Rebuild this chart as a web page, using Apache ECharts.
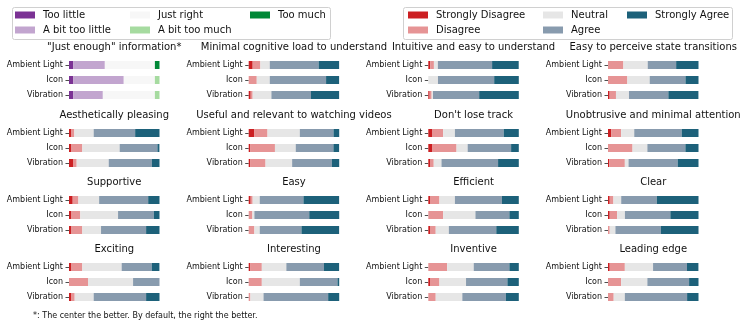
<!DOCTYPE html>
<html>
<head>
<meta charset="utf-8">
<script src="https://cdn.jsdelivr.net/npm/echarts@6/dist/echarts.min.js"></script>
<style>
html,body{margin:0;padding:0;background:#fff;}
#chart{width:747px;height:330px;}
</style>
</head>
<body>
<div id="chart"></div>
<script>
// ---- data (percent of respondents) ----
const modalities = ['Ambient Light', 'Icon', 'Vibration'];
const amountLevels = ['Too little', 'A bit too little', 'Just right', 'A bit too much', 'Too much'];
const likertLevels = ['Strongly Disagree', 'Disagree', 'Neutral', 'Agree', 'Strongly Agree'];
const amountColors = ['#7b3294', '#c2a5cf', '#f7f7f7', '#a6dba0', '#008837'];
const likertColors = ['#cc1f22', '#e69495', '#e6e6e6', '#889bae', '#1d617a'];

const panelTitles = [
  '"Just enough" information*', 'Minimal cognitive load to understand', 'Intuitive and easy to understand', 'Easy to perceive state transitions',
  'Aesthetically pleasing', 'Useful and relevant to watching videos', "Don't lose track", 'Unobtrusive and minimal attention',
  'Supportive', 'Easy', 'Efficient', 'Clear',
  'Exciting', 'Interesting', 'Inventive', 'Leading edge'
];

// rows: Ambient Light, Icon, Vibration; columns: levels (left to right)
const justEnough      = [[4.8, 34.8, 55.3, 0, 5.1], [4.8, 55.7, 34.4, 5.1, 0], [4.8, 32.6, 57.5, 5.1, 0]];
const minimalLoad     = [[4.4, 8.5, 10.4, 54.0, 22.6], [0, 8.9, 14.4, 62.2, 14.4], [2.2, 2.2, 20.7, 43.7, 31.1]];
const intuitive       = [[2.2, 4.0, 4.4, 59.9, 29.4], [0, 0, 10.7, 62.1, 27.2], [1.5, 2.2, 1.5, 51.0, 43.8]];
const stateTransition = [[0, 17.0, 26.9, 31.4, 24.7], [0, 21.4, 24.7, 39.5, 14.4], [1.8, 7.0, 14.4, 43.5, 33.2]];
const aesthetic       = [[2.2, 3.7, 21.4, 45.8, 26.9], [2.2, 12.5, 41.3, 41.7, 2.2], [4.4, 4.1, 35.4, 47.6, 8.5]];
const usefulVideos    = [[6.3, 14.5, 35.7, 37.2, 6.3], [1.9, 27.1, 23.0, 41.6, 6.3], [1.9, 16.7, 29.4, 43.9, 8.2]];
const loseTrack       = [[4.1, 12.3, 13.0, 53.9, 16.7], [4.1, 27.1, 12.3, 48.0, 8.6], [1.9, 4.1, 8.6, 62.5, 23.0]];
const unobtrusive     = [[3.7, 10.8, 14.5, 52.4, 18.6], [0, 27.1, 16.4, 42.0, 14.5], [1.5, 17.1, 4.1, 54.3, 23.0]];
const supportive      = [[4.1, 6.3, 22.9, 54.2, 12.5], [2.2, 10.3, 41.7, 39.5, 6.3], [2.2, 12.5, 20.7, 49.8, 14.8]];
const easy            = [[2.2, 2.2, 7.8, 48.3, 39.4], [0, 4.1, 2.2, 60.6, 33.1], [0, 6.3, 5.9, 46.1, 41.6]];
const efficient       = [[1.9, 10.4, 17.1, 52.0, 18.6], [0, 16.4, 35.7, 37.5, 10.4], [1.9, 6.3, 14.5, 52.4, 24.9]];
const clear           = [[1.9, 4.1, 8.6, 39.4, 46.1], [1.9, 8.2, 8.6, 50.2, 31.2], [0, 1.9, 6.3, 50.2, 41.6]];
const exciting        = [[2.2, 12.5, 43.5, 33.2, 8.5], [0, 21.0, 49.8, 29.2, 0], [2.2, 4.1, 21.0, 57.9, 14.8]];
const interesting     = [[1.9, 12.6, 27.1, 41.6, 16.7], [0, 14.5, 42.0, 41.6, 1.9], [0, 1.9, 14.5, 71.4, 12.3]];
const inventive       = [[0, 20.8, 29.4, 39.4, 10.4], [1.9, 10.4, 29.4, 45.7, 12.6], [0, 8.2, 29.4, 48.0, 14.5]];
const leadingEdge     = [[1.9, 16.7, 31.2, 37.5, 12.6], [0, 14.5, 29.0, 46.1, 10.4], [0, 6.3, 12.3, 68.8, 12.6]];

const panels = [justEnough, minimalLoad, intuitive, stateTransition, aesthetic, usefulVideos, loseTrack, unobtrusive,
  supportive, easy, efficient, clear, exciting, interesting, inventive, leadingEdge];

// ---- layout ----
const FONT = 'DejaVu Sans';
const colX = [69, 248.7, 428.3, 608];
const barW = 90.5;
const rowTop = [57.5, 125.5, 192.5, 259.5];
const gridH = 45;

const grids = [], xAxes = [], yAxes = [], series = [], titles = [];
panels.forEach((vals, i) => {
  const c = i % 4, r = Math.floor(i / 4);
  grids.push({ left: colX[c], top: rowTop[r], width: barW, height: gridH, containLabel: false });
  xAxes.push({ gridIndex: i, type: 'value', min: 0, max: 100, show: false });
  yAxes.push({
    gridIndex: i, type: 'category', data: modalities, inverse: true,
    axisLine: { show: false },
    axisTick: { show: true, alignWithLabel: true, length: 3.5, lineStyle: { color: '#222', width: 0.8 } },
    axisLabel: { fontFamily: FONT, fontSize: 8, color: '#111', margin: 6 },
    splitLine: { show: false }
  });
  titles.push({
    text: panelTitles[i], left: colX[c] + barW / 2, top: rowTop[r] - 15.5, textAlign: 'center', padding: 0,
    textStyle: { fontFamily: FONT, fontSize: 10, fontWeight: 'normal', color: '#111' }
  });
  const names = i === 0 ? amountLevels : likertLevels;
  const colors = i === 0 ? amountColors : likertColors;
  names.forEach((nm, k) => {
    series.push({
      type: 'bar', name: nm, xAxisIndex: i, yAxisIndex: i, stack: 'p' + i,
      barWidth: 8, silent: true, animation: false,
      itemStyle: { color: colors[k] },
      data: vals.map(row => row[k])
    });
  });
});

function legendCol(names, left) {
  return {
    data: names, left: left, top: 9, orient: 'vertical', itemGap: 3, padding: 0,
    itemWidth: 20, itemHeight: 7, icon: 'rect', selectedMode: false,
    textStyle: { fontFamily: FONT, fontSize: 10, color: '#111', lineHeight: 12, padding: [0, 0, 0, 3] }
  };
}

const option = {
  backgroundColor: '#fff',
  animation: false,
  title: titles,
  grid: grids, xAxis: xAxes, yAxis: yAxes, series: series,
  legend: [
    legendCol(['Too little', 'A bit too little'], 15),
    legendCol(['Just right', 'A bit too much'], 130),
    legendCol(['Too much'], 250),
    legendCol(['Strongly Disagree', 'Disagree'], 408),
    legendCol(['Neutral', 'Agree'], 543),
    legendCol(['Strongly Agree'], 627)
  ],
  graphic: [
    { type: 'rect', left: 12, top: 7, z: -1, shape: { width: 318, height: 32, r: 2 }, style: { fill: '#fff', stroke: '#d0d0d0', lineWidth: 1 } },
    { type: 'rect', left: 403, top: 7, z: -1, shape: { width: 329, height: 32, r: 2 }, style: { fill: '#fff', stroke: '#d0d0d0', lineWidth: 1 } },
    { type: 'text', left: 33, top: 312, style: { text: '*: The center the better. By default, the right the better.', font: '8px "DejaVu Sans"', fill: '#111' } }
  ]
};

const chart = echarts.init(document.getElementById('chart'), null, { renderer: 'canvas' });
chart.setOption(option);
</script>
</body>
</html>
